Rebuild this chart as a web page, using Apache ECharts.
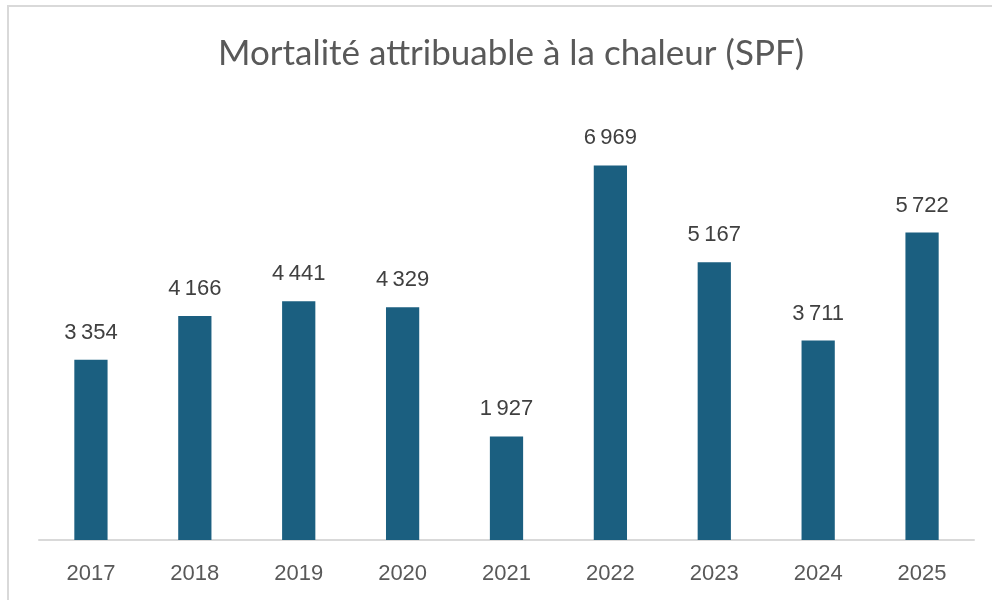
<!DOCTYPE html>
<html>
<head>
<meta charset="utf-8">
<script src="https://cdn.jsdelivr.net/npm/echarts@6/dist/echarts.min.js"></script>
<style>
    body { margin: 0; background: #ffffff; }
    #frame {
        position: absolute; left: 7px; top: 5px; width: 985px; height: 595px;
        border-left: 2px solid #d9d9d9; border-top: 2px solid #d9d9d9;
    }
    #main { position: absolute; left: 0; top: 0; width: 992px; height: 600px; }
</style>
</head>
<body>
<div id="frame"></div>
<div id="main"></div>
<script>
var years = ['2017', '2018', '2019', '2020', '2021', '2022', '2023', '2024', '2025'];
var deaths = [3354, 4166, 4441, 4329, 1927, 6969, 5167, 3711, 5722];

function formatFr(v) {
    return String(v).replace(/\B(?=(\d{3})+(?!\d))/g, '\u2009');
}

var chart = echarts.init(document.getElementById('main'));
chart.setOption({
    animation: false,
    title: {
        text: 'Mortalité attribuable à la chaleur (SPF)',
        left: 506,
        textAlign: 'center',
        top: 31,
        textStyle: {
            fontFamily: 'Lato',
            fontSize: 35,
            fontWeight: 'normal',
            color: '#595959'
        }
    },
    grid: {
        left: 39,
        right: 18,
        top: 110,
        bottom: 60
    },
    xAxis: {
        type: 'category',
        data: years,
        axisTick: { show: false },
        axisLine: { lineStyle: { color: '#d9d9d9', width: 2 } },
        axisLabel: {
            fontFamily: 'Liberation Sans',
            fontSize: 22,
            color: '#595959',
            margin: 23
        }
    },
    yAxis: {
        type: 'value',
        min: 0,
        max: 8000,
        show: false,
        splitLine: { show: false }
    },
    series: [{
        type: 'bar',
        data: deaths,
        barWidth: '32%',
        itemStyle: { color: '#1b5f80' },
        label: {
            show: true,
            position: 'top',
            distance: 16,
            fontFamily: 'Liberation Sans',
            fontSize: 22,
            color: '#404040',
            formatter: function (p) { return formatFr(p.value); }
        }
    }]
});
</script>
</body>
</html>
